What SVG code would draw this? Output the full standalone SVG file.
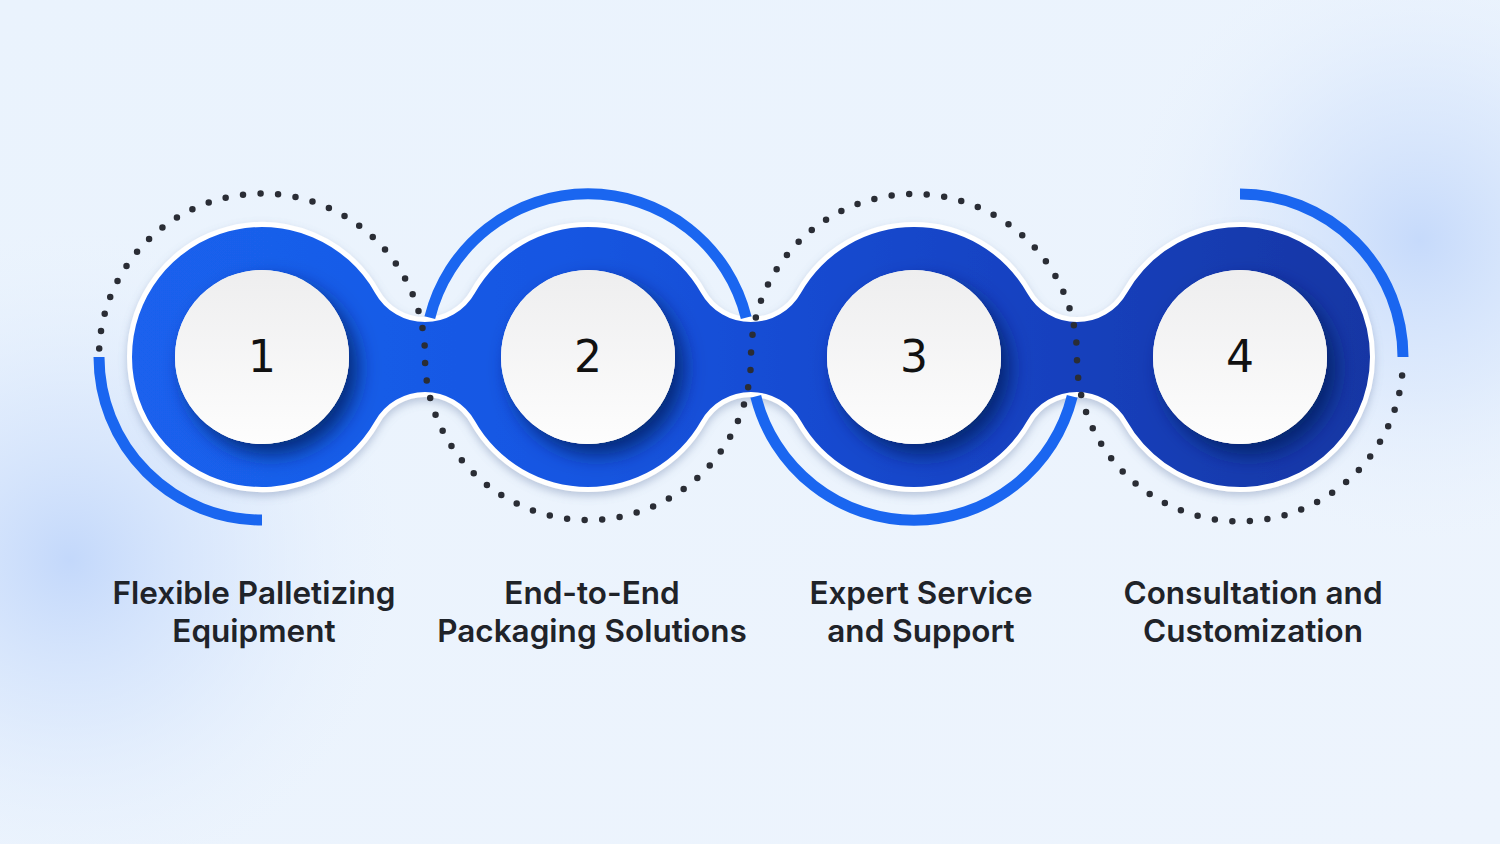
<svg xmlns="http://www.w3.org/2000/svg" width="1500" height="844" viewBox="0 0 1500 844">
  <defs>
    <linearGradient id="bg" x1="0" y1="0" x2="1" y2="1">
      <stop offset="0" stop-color="#eaf3fd"/>
      <stop offset="1" stop-color="#edf4fd"/>
    </linearGradient>
    <radialGradient id="blobL" cx="70" cy="560" r="330" gradientUnits="userSpaceOnUse">
      <stop offset="0" stop-color="#c3d8fb"/>
      <stop offset="0.5" stop-color="#d6e5fc" stop-opacity="0.6"/>
      <stop offset="1" stop-color="#e8f1fd" stop-opacity="0"/>
    </radialGradient>
    <radialGradient id="blobR" cx="1420" cy="240" r="300" gradientUnits="userSpaceOnUse">
      <stop offset="0" stop-color="#c6dafb"/>
      <stop offset="0.5" stop-color="#d6e5fc" stop-opacity="0.6"/>
      <stop offset="1" stop-color="#e8f1fd" stop-opacity="0"/>
    </radialGradient>
    <linearGradient id="blue" x1="130" y1="0" x2="1372" y2="0" gradientUnits="userSpaceOnUse">
      <stop offset="0" stop-color="#1a62ee"/>
      <stop offset="0.35" stop-color="#1756e2"/>
      <stop offset="0.65" stop-color="#1445c8"/>
      <stop offset="1" stop-color="#1436a4"/>
    </linearGradient>
    <linearGradient id="inner" x1="0" y1="0" x2="0" y2="1">
      <stop offset="0" stop-color="#eeeeef"/>
      <stop offset="1" stop-color="#fdfdfd"/>
    </linearGradient>
    <filter id="outerShadow" x="-10%" y="-30%" width="120%" height="160%">
      <feDropShadow dx="0" dy="4" stdDeviation="4" flood-color="#6a7fa8" flood-opacity="0.4"/>
    </filter>
    <filter id="innerShadow" x="-40%" y="-40%" width="180%" height="180%">
      <feDropShadow dx="9" dy="11" stdDeviation="10" flood-color="#06205f" flood-opacity="0.8"/>
    </filter>
    <clipPath id="blobClip">
      <path d="M132,357 A130,130 0 0 1 375.1,292.9 A57.3,57.3 0 0 0 474.9,292.9 A130,130 0 0 1 701.1,292.9 A57.3,57.3 0 0 0 800.9,292.9 A130,130 0 0 1 1027.1,292.9 A57.3,57.3 0 0 0 1126.9,292.9 A130,130 0 1 1 1126.9,421.1 A57.3,57.3 0 0 0 1027.1,421.1 A130,130 0 0 1 800.9,421.1 A57.3,57.3 0 0 0 701.1,421.1 A130,130 0 0 1 474.9,421.1 A57.3,57.3 0 0 0 375.1,421.1 A130,130 0 0 1 132,357 Z"/>
    </clipPath>
  </defs>
  <style>
    .label { font-family: Inter, "Noto Sans", "Liberation Sans", sans-serif; font-weight: 600; font-size: 31.5px; fill: #1f2329; text-anchor: middle; }
    .num { font-family: "DejaVu Sans", "Liberation Sans", sans-serif; font-size: 44px; fill: #111111; text-anchor: middle; }
    .solid { fill: none; stroke: #1a66f0; stroke-width: 11; }
    .dots { fill: none; stroke: #2a2d35; stroke-width: 6.5; stroke-linecap: round; stroke-dasharray: 0 17.6; }
    .inner { fill: url(#inner); filter: url(#innerShadow); }
  </style>

  <rect width="1500" height="844" fill="url(#bg)"/>
  <rect width="1500" height="844" fill="url(#blobL)"/>
  <rect width="1500" height="844" fill="url(#blobR)"/>

  <g id="band">
    <path d="M132,357 A130,130 0 0 1 375.1,292.9 A57.3,57.3 0 0 0 474.9,292.9 A130,130 0 0 1 701.1,292.9 A57.3,57.3 0 0 0 800.9,292.9 A130,130 0 0 1 1027.1,292.9 A57.3,57.3 0 0 0 1126.9,292.9 A130,130 0 1 1 1126.9,421.1 A57.3,57.3 0 0 0 1027.1,421.1 A130,130 0 0 1 800.9,421.1 A57.3,57.3 0 0 0 701.1,421.1 A130,130 0 0 1 474.9,421.1 A57.3,57.3 0 0 0 375.1,421.1 A130,130 0 0 1 132,357 Z" fill="url(#blue)" stroke="#ffffff" stroke-width="10" paint-order="stroke" filter="url(#outerShadow)"/>
  </g>

  <g id="connectors">
    <path class="dots" d="M99.2,348.5 A163,163 0 0 1 425,357 A163,163 0 0 0 751,357 A163,163 0 0 1 1077,357 A163,163 0 0 0 1403,359.8"/>
    <path class="solid" d="M99,357 A163,163 0 0 0 262,520"/>
    <path class="solid" d="M429.8,317.6 A163,163 0 0 1 746.2,317.6"/>
    <path class="solid" d="M755.8,396.4 A163,163 0 0 0 1072.2,396.4"/>
    <path class="solid" d="M1240,194 A163,163 0 0 1 1403,357"/>
  </g>

  <g id="node1">
    <g clip-path="url(#blobClip)"><circle class="inner" cx="262" cy="357" r="87"/></g>
    <circle cx="262" cy="357" r="87" fill="url(#inner)"/>
    <text class="num" x="262" y="372">1</text>
    <text class="label" x="254" y="604">Flexible Palletizing</text>
    <text class="label" x="254" y="642">Equipment</text>
  </g>
  <g id="node2">
    <g clip-path="url(#blobClip)"><circle class="inner" cx="588" cy="357" r="87"/></g>
    <circle cx="588" cy="357" r="87" fill="url(#inner)"/>
    <text class="num" x="588" y="372">2</text>
    <text class="label" x="592" y="604">End-to-End</text>
    <text class="label" x="592" y="642">Packaging Solutions</text>
  </g>
  <g id="node3">
    <g clip-path="url(#blobClip)"><circle class="inner" cx="914" cy="357" r="87"/></g>
    <circle cx="914" cy="357" r="87" fill="url(#inner)"/>
    <text class="num" x="914" y="372">3</text>
    <text class="label" x="921" y="604">Expert Service</text>
    <text class="label" x="921" y="642">and Support</text>
  </g>
  <g id="node4">
    <g clip-path="url(#blobClip)"><circle class="inner" cx="1240" cy="357" r="87"/></g>
    <circle cx="1240" cy="357" r="87" fill="url(#inner)"/>
    <text class="num" x="1240" y="372">4</text>
    <text class="label" x="1253" y="604">Consultation and</text>
    <text class="label" x="1253" y="642">Customization</text>
  </g>
</svg>
